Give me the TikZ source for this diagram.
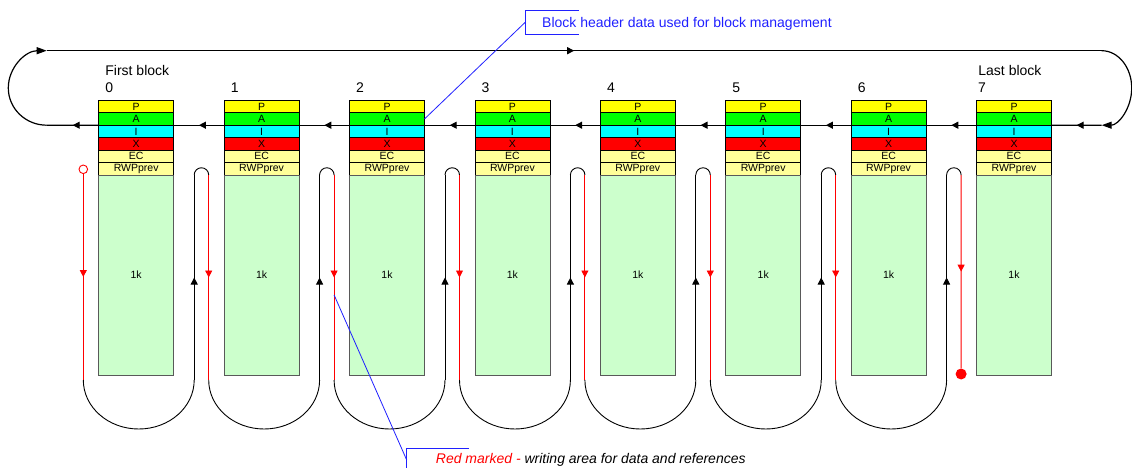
\documentclass[tikz,border=0pt]{standalone}
\usepackage{fontspec}
\setmainfont{Liberation Sans}
\usepackage{xcolor}
\usetikzlibrary{positioning, arrows.meta, decorations.markings}

\definecolor{hdryellow}{HTML}{FFFF00}
\definecolor{hdrgreen}{HTML}{00FF00}
\definecolor{hdrcyan}{HTML}{00FFFF}
\definecolor{hdrred}{HTML}{FF0000}
\definecolor{paleyellow}{HTML}{FFFF99}
\definecolor{palegreen}{HTML}{CCFFCC}
\definecolor{noteblue}{HTML}{2020FF}

\tikzset{
  hdr/.style={draw, line width=0.8pt, minimum width=75pt, minimum height=12.45pt,
    inner sep=0pt, outer sep=0pt, font=\fontsize{10.5}{10.5}\selectfont},
  body/.style={hdr, draw=black!65, fill=palegreen, minimum height=200pt},
  lbl/.style={inner sep=0pt, font=\fontsize{14}{14}\selectfont},
  ring/.style={line width=1.2pt},
  wire/.style={line width=0.9pt},
  redwire/.style={wire, hdrred},
  midarrow/.style={postaction={decorate}, decoration={markings,
    mark=at position 0.5 with {\arrow{Triangle[length=7pt,width=7pt]}}}},
  endarrow/.style={-{Triangle[length=10pt,width=7pt]}},
  callout/.style={noteblue, line width=0.8pt}
}

\begin{document}
\begin{tikzpicture}[x=1pt, y=1pt]
  \useasboundingbox (0,0) rectangle (1132,-468);

  % Blocks
  \foreach \i in {0,...,7} {
    \pgfmathsetmacro{\bx}{98.7+125.4*\i}
    \node[hdr, fill=hdryellow, anchor=north west] (p\i) at (\bx,-100.3) {P};
    \node[hdr, fill=hdrgreen, below=0pt of p\i] (a\i) {A};
    \node[hdr, fill=hdrcyan, below=0pt of a\i] (i\i) {I};
    \node[hdr, fill=hdrred, below=0pt of i\i] (x\i) {X};
    \node[hdr, fill=paleyellow, below=0pt of x\i] (ec\i) {EC};
    \node[hdr, fill=paleyellow, below=0pt of ec\i] (rwp\i) {RWPprev};
    \node[body, below=0pt of rwp\i] (data\i) {1k};
  }

  % Block numbers
  \foreach \i/\dx in {0/6.5, 1/6.5, 2/6.5, 3/6.5, 4/6.5, 5/6.5, 6/6.5, 7/1.5}
    \node[lbl, anchor=base west] (num\i) at (98.7+125.4*\i+\dx,-93) {\i};
  \node[lbl, anchor=base west] (first) at (105.2,-76) {First block};
  \node[lbl, anchor=base west] (last) at (978.2,-76) {Last block};

  % Header ring
  \coordinate (ringL) at (46.7,-125.2);
  \coordinate (ringR) at (1101.7,-125.2);
  \coordinate (topL) at (46.7,-50.7);
  \coordinate (topR) at (1101.7,-50.7);
  \draw[ring, midarrow] (ringR) -- (a7.south east);
  \foreach \i [evaluate=\i as \j using int(\i-1)] in {1,...,7}
    \draw[ring, midarrow] (a\i.south west) -- (a\j.south east);
  \draw[ring, midarrow] (a0.south west) -- (ringL);
  \draw[ring, endarrow] (ringL) arc[start angle=270, end angle=90, x radius=38.4, y radius=37.25];
  \draw[ring, midarrow] (topL) -- (topR);
  \draw[ring, endarrow] (topR) arc[start angle=90, end angle=-90, x radius=30, y radius=37.25];

  % Write path
  \node[circle, draw=hdrred, line width=0.9pt, minimum size=8.6pt, inner sep=0pt] (start) at (83.3,-169.3) {};
  \node[circle, fill=hdrred, minimum size=11pt, inner sep=0pt] (stop) at (961.1,-374) {};
  \coordinate (lead) at (83.3,-380);
  \draw[redwire, midarrow] (start) -- (lead);
  \draw[wire] (lead) arc[start angle=180, end angle=360, x radius=55.45, y radius=49];
  \foreach \i in {0,...,6} {
    \pgfmathsetmacro{\xb}{194.2+125.4*\i}
    \coordinate (upbot\i) at (\xb,-380);
    \coordinate (uptop\i) at (\xb,-175);
    \coordinate (dntop\i) at (\xb+14.5,-175);
    \coordinate (dnbot\i) at (\xb+14.5,-380);
    \draw[wire, midarrow] (upbot\i) -- (uptop\i);
    \draw[wire] (uptop\i) arc[start angle=180, end angle=0, radius=7.25];
  }
  \foreach \i in {0,...,5} {
    \draw[redwire, midarrow] (dntop\i) -- (dnbot\i);
    \draw[wire] (dnbot\i) arc[start angle=180, end angle=360, x radius=55.45, y radius=49];
  }
  \draw[redwire, midarrow] (dntop6) -- (stop);

  % Notes
  \node[lbl, anchor=base west, text=noteblue] (hdrnote) at (542,-27.3)
    {Block header data used for block management};
  \coordinate (hdrtag) at (525,-22.5);
  \draw[callout] (579,-10.7) -| (525,-34.3) -- (579,-34.3);
  \draw[callout] (a2.east) -- (hdrtag);

  \node[lbl, anchor=base west, font=\fontsize{14}{14}\selectfont\itshape] (rednote) at (435.7,-463)
    {\textcolor{hdrred}{Red marked -} writing area for data and references};
  \coordinate (redtag) at (406.7,-460);
  \coordinate (redpick) at (334.1,-295);
  \draw[callout] (469,-448.3) -| (406.7,-472);
  \draw[callout] (redpick) -- (redtag);
\end{tikzpicture}
\end{document}
